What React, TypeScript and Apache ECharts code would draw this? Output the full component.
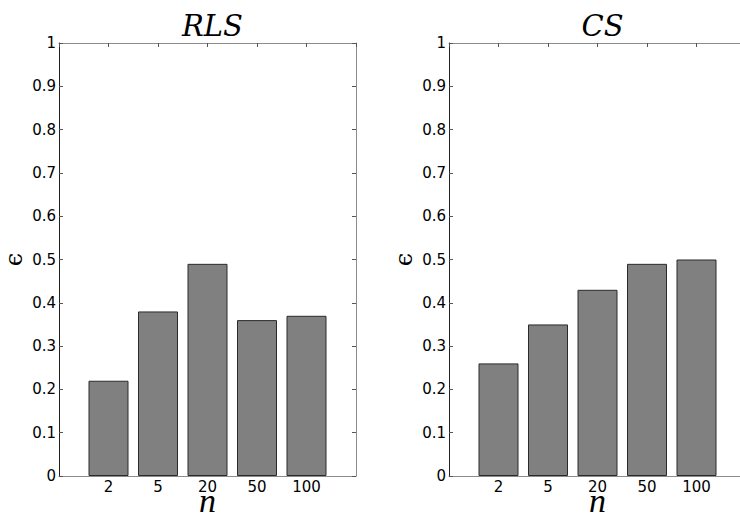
import React, { useEffect, useRef } from "react";
import * as echarts from "echarts";

const categories = ["2", "5", "20", "50", "100"];
const rlsValues = [0.22, 0.38, 0.49, 0.36, 0.37];
const csValues = [0.26, 0.35, 0.43, 0.49, 0.5];
const titles = ["RLS", "CS"];

const GRID_LEFTS = [59, 449];
const GRID_TOP = 43;
const GRID_W = 297;
const GRID_H = 433;

export default function App() {
  const ref = useRef<HTMLDivElement>(null);
  useEffect(() => {
    if (!ref.current) return;
    const chart = echarts.init(ref.current, undefined, { renderer: "svg" });
    const labelFont = { fontFamily: "DejaVu Sans", fontSize: 15, color: "#000" };
    const xLabel = (v: number) => (v >= 1 && v <= categories.length ? categories[v - 1] : "");
    const grids = GRID_LEFTS.map((l) => ({
      left: l,
      top: GRID_TOP,
      width: GRID_W,
      height: GRID_H,
      containLabel: false,
      outerBoundsMode: "none",
    }));
    const xAxes: any[] = [];
    const yAxes: any[] = [];
    GRID_LEFTS.forEach((_, g) => {
      xAxes.push({
        type: "value",
        gridIndex: g,
        min: 0,
        max: 6,
        interval: 1,
        position: "bottom",
        axisLine: { show: true, onZero: false, lineStyle: { color: "#8c8c8c", width: 1 } },
        axisTick: { show: false },
        splitLine: { show: false },
        axisLabel: { ...labelFont, margin: 3, lineHeight: 16, formatter: xLabel },
        name: "n",
        nameLocation: "middle",
        nameGap: 24,
        nameMoveOverlap: false,
        nameTextStyle: {
          fontFamily: "Liberation Serif",
          fontStyle: "italic",
          fontSize: 34,
          lineHeight: 12,
          color: "#000",
          verticalAlign: "middle",
        },
      });
      xAxes.push({
        type: "value",
        gridIndex: g,
        min: 0,
        max: 6,
        interval: 1,
        position: "top",
        axisLine: { show: true, onZero: false, lineStyle: { color: "#8c8c8c", width: 1 } },
        axisTick: { show: true, inside: true, length: 4, lineStyle: { color: "#555" } },
        splitLine: { show: false },
        axisLabel: { show: false },
      });
      yAxes.push({
        type: "value",
        gridIndex: g,
        min: 0,
        max: 1,
        interval: 0.1,
        position: "left",
        axisLine: { show: true, onZero: false, lineStyle: { color: "#222", width: 1 } },
        axisTick: { show: true, inside: true, length: 4, lineStyle: { color: "#555" } },
        splitLine: { show: false },
        axisLabel: { ...labelFont, margin: 3, formatter: (v: number) => (v === 0 ? "0" : v === 1 ? "1" : v.toFixed(1)) },
        name: "\u03f5",
        nameLocation: "middle",
        nameRotate: 90,
        nameGap: 33,
        nameMoveOverlap: false,
        nameTextStyle: { fontFamily: "DejaVu Serif", fontSize: 24, color: "#000" },
      });
      yAxes.push({
        type: "value",
        gridIndex: g,
        min: 0,
        max: 1,
        interval: 0.1,
        position: "right",
        axisLine: { show: true, onZero: false, lineStyle: { color: "#8c8c8c", width: 1 } },
        axisTick: { show: true, inside: true, length: 4, lineStyle: { color: "#555" } },
        splitLine: { show: false },
        axisLabel: { show: false },
      });
    });
    const mk = (vals: number[], g: number) => ({
      type: "bar",
      xAxisIndex: g * 2,
      yAxisIndex: g * 2,
      barWidth: 40,
      data: vals.map((v, i) => [i + 1, v]),
      itemStyle: { color: "#808080", borderColor: "#2a2a2a", borderWidth: 1 },
      silent: true,
    });
    chart.setOption({
      animation: false,
      backgroundColor: "#fff",
      title: titles.map((t, g) => ({
        text: t,
        left: GRID_LEFTS[g] + GRID_W / 2,
        top: 6,
        textAlign: "center",
        textStyle: {
          fontFamily: "DejaVu Serif",
          fontStyle: "italic",
          fontWeight: "normal",
          fontSize: 29,
          color: "#000",
        },
      })),
      grid: grids,
      xAxis: xAxes,
      yAxis: yAxes,
      series: [mk(rlsValues, 0), mk(csValues, 1)],
    });
    return () => chart.dispose();
  }, []);
  return <div ref={ref} style={{ position: "absolute", left: 0, top: 0, width: 740, height: 517 }} />;
}
